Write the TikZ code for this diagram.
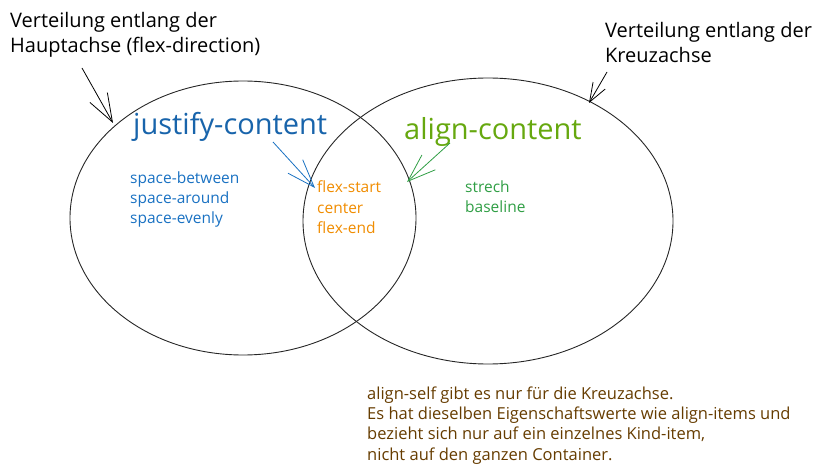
\documentclass[tikz,border=0pt]{standalone}
\usepackage{fontspec}
\setmainfont{Open Sans}
\usetikzlibrary{arrows.meta}
\definecolor{jcblue}{HTML}{1864AB}
\definecolor{valblue}{HTML}{1971C2}
\definecolor{flexorange}{HTML}{F08C00}
\definecolor{acgreen}{HTML}{66A80F}
\definecolor{valgreen}{HTML}{2F9E44}
\definecolor{notebrown}{HTML}{663C00}
\begin{document}
\begin{tikzpicture}[x=1pt, y=-1pt,
        axis/.style={draw=black!85, line width=0.9pt},
        note/.style={anchor=base west, inner sep=0pt, align=left, font=\fontsize{20}{25}\selectfont},
        title/.style={anchor=base west, inner sep=0pt, font=\fontsize{29}{30}\selectfont},
        vals/.style={anchor=base west, inner sep=0pt, align=left, font=\fontsize{15.5}{20}\selectfont},
        barb/.style={line width=0.8pt, -{Straight Barb[length=28pt, width=20pt]}},
        ]
        \useasboundingbox (0,0) rectangle (838,476);
        % Two axes as overlapping ellipses
        \draw[axis] (243,218) ellipse [x radius=173, y radius=137];
        \draw[axis] (488,221) ellipse [x radius=185, y radius=143];

        % Axis captions (anchored at the baseline of the last line)
        \node[note] (mainaxis) at (10,53) {Verteilung entlang der\\Hauptachse (flex-direction)};
        \node[note] (crossaxis) at (605,63) {Verteilung entlang der\\Kreuzachse};
        \coordinate (mainhit) at (113,123);
        \coordinate (crosshit) at (589,103);
        \draw[barb, black] (82,68) -- (mainhit);
        \draw[barb, black, -{Straight Barb[length=19pt, width=14pt]}] (607,72) -- (crosshit);

        % Property names
        \node[title, text=jcblue] (justify) at (133,135) {justify-content};
        \node[title, text=acgreen] (aligncont) at (404,140) {align-content};

        % Values
        \node[vals, text=valblue] (spacevals) at (130,223) {space-between\\space-around\\space-evenly};
        \node[vals, text=flexorange] (flexvals) at (317,233) {flex-start\\center\\flex-end};
        \node[vals, text=valgreen] (alignvals) at (465,212) {strech\\baseline};

        \coordinate (jchit) at (315,188);
        \coordinate (achit) at (407,182);
        \draw[barb, valblue] (273,142) -- (jchit);
        \draw[barb, valgreen] (450,143) -- (achit);

        % Note on align-self
        \node[vals, text=notebrown, font=\fontsize{16.5}{20.3}\selectfont] (selfnote) at (367,460)
            {align-self gibt es nur für die Kreuzachse.\\Es hat dieselben Eigenschaftswerte wie align-items und\\bezieht sich nur auf ein einzelnes Kind-item,\\nicht auf den ganzen Container.};
\end{tikzpicture}
\end{document}
